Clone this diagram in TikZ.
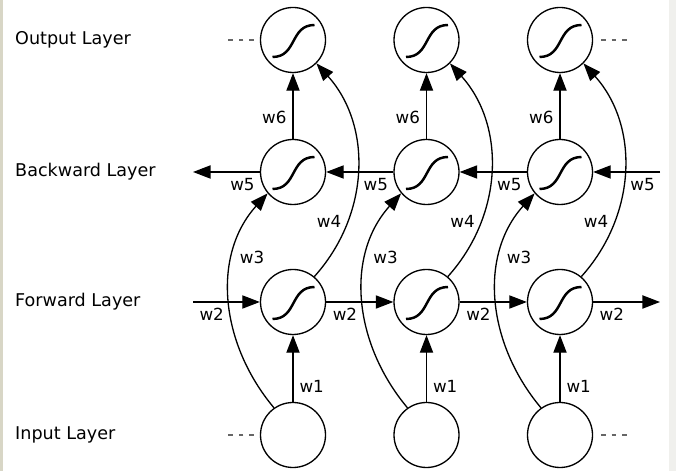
\documentclass[tikz,border=0pt]{standalone}
\usepackage{fontspec}
\setmainfont{DejaVu Sans}
\usetikzlibrary{arrows.meta}
\definecolor{edgeleft}{RGB}{216,214,198}
\definecolor{edgeright}{RGB}{240,240,237}

\begin{document}
\begin{tikzpicture}[
  neuron/.style={circle, draw, line width=0.75pt, minimum size=1.3cm, inner sep=0pt},
  sig/.style={neuron, path picture={\draw[line width=1.4pt]
    ([shift={(-0.41,-0.34)}]path picture bounding box.center) to[out=0,in=180,looseness=1.2]
    ([shift={(0.43,0.3)}]path picture bounding box.center);}},
  arr/.style={line width=0.75pt, -{Triangle[length=10pt,width=7.5pt]}},
  wt/.style={font=\fontsize{9.5}{11}\selectfont},
  layer/.style={anchor=west, font=\fontsize{10}{12}\selectfont},
  etc/.style={gray!80!black, line width=0.6pt, dash pattern=on 2.5pt off 3.5pt}
]
\useasboundingbox (0,0) rectangle (13.52,9.42);
\fill[edgeleft] (0,0) rectangle (0.06,9.42);
\fill[edgeright] (13.38,0) rectangle (13.52,9.42);

\node[layer] (lo) at (0.18,8.62) {Output Layer};
\node[layer] (lb) at (0.18,5.98) {Backward Layer};
\node[layer] (lf) at (0.18,3.38) {Forward Layer};
\node[layer] (li) at (0.18,0.72) {Input Layer};

\foreach \i/\x in {1/5.86,2/8.53,3/11.2}{
\node[neuron] (i\i) at (\x,0.72) {};
\node[sig] (f\i) at (\x,3.38) {};
\node[sig] (b\i) at (\x,5.98) {};
\node[sig] (o\i) at (\x,8.62) {};}

\coordinate (fin) at (3.86,3.38);
\coordinate (fout) at (13.2,3.38);
\coordinate (bin) at (13.2,5.98);
\coordinate (bout) at (3.86,5.98);

\foreach \i in {1,2,3}{
\draw[arr] (i\i) -- node[wt, right, pos=0.23] {w1} (f\i);
\draw[arr] (b\i) -- node[wt, left, pos=0.32] {w6} (o\i);
\draw[arr] (i\i.125) to[out=130,in=228] node[wt, right, pos=0.69] {w3} (b\i.220);
\draw[arr] (f\i.50) to[out=48,in=-48] node[wt, left, pos=0.27] {w4} (o\i.-45);}

\draw[arr] (fin) -- node[wt, below, pos=0.28] {w2} (f1);
\draw[arr] (f1) -- node[wt, below, pos=0.28] {w2} (f2);
\draw[arr] (f2) -- node[wt, below, pos=0.28] {w2} (f3);
\draw[arr] (f3) -- node[wt, below, pos=0.28] {w2} (fout);

\draw[arr] (bin) -- node[wt, below, pos=0.26] {w5} (b3);
\draw[arr] (b3) -- node[wt, below, pos=0.26] {w5} (b2);
\draw[arr] (b2) -- node[wt, below, pos=0.26] {w5} (b1);
\draw[arr] (b1) -- node[wt, below, pos=0.26] {w5} (bout);

\draw[etc] ([xshift=-0.12cm]o1.west) -- ++(-0.62,0);
\draw[etc] ([xshift=-0.12cm]i1.west) -- ++(-0.62,0);
\draw[etc] ([xshift=0.16cm]o3.east) -- ++(0.62,0);
\draw[etc] ([xshift=0.16cm]i3.east) -- ++(0.62,0);
\end{tikzpicture}
\end{document}
